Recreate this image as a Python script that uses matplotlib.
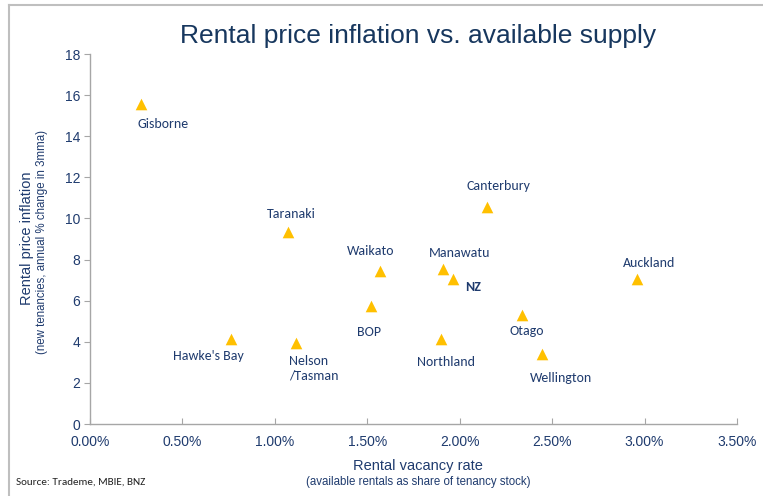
import matplotlib
matplotlib.use("Agg")
import matplotlib.pyplot as plt
from matplotlib.lines import Line2D

regions = ["Gisborne", "Taranaki", "Hawke's Bay", "Nelson\n/Tasman", "Waikato", "BOP",
           "Manawatu", "NZ", "Canterbury", "Northland", "Otago", "Wellington", "Auckland"]
vacancy = [0.276, 1.071, 0.763, 1.114, 1.568, 1.520, 1.909, 1.963, 2.147, 1.898, 2.336, 2.445, 2.958]
inflation = [15.56, 9.34, 4.13, 3.94, 7.44, 5.74, 7.54, 7.05, 10.55, 4.13, 5.30, 3.40, 7.05]
x_ticks = [0, 0.5, 1.0, 1.5, 2.0, 2.5, 3.0, 3.5]
y_ticks = [0, 2, 4, 6, 8, 10, 12, 14, 16, 18]

# label offsets in pixels (dx, dy) and alignment
offsets = {
    "Gisborne": (22, -20, "center"),
    "Taranaki": (3, 18, "center"),
    "Hawke's Bay": (-23, -17, "center"),
    "Nelson\n/Tasman": (-7, -25, "left"),
    "Waikato": (-9, 20, "center"),
    "BOP": (-2, -26, "center"),
    "Manawatu": (17, 16, "center"),
    "NZ": (20, -8, "center"),
    "Canterbury": (12, 21, "center"),
    "Northland": (5, -23, "center"),
    "Otago": (5, -16, "center"),
    "Wellington": (19, -24, "center"),
    "Auckland": (12, 16, "center"),
}

navy = "#1F3B6E"
title_c = "#17375E"
lab_font = ["Carlito", "Lato", "DejaVu Sans"]
ax_font = ["Liberation Sans", "DejaVu Sans"]
narrow = ["Liberation Sans Narrow", "Liberation Sans", "DejaVu Sans"]

fig = plt.figure(figsize=(7.63, 4.96), dpi=100)
ax = fig.add_axes([90/763, (496-424)/496, (737-90)/763, (424-54)/496])

ax.scatter(vacancy, inflation, marker="^", s=70, color="#FFC000", zorder=3, linewidths=0)

for name, x, y in zip(regions, vacancy, inflation):
    dx, dy, ha = offsets[name]
    ax.annotate(name, (x, y), xytext=(dx, dy), textcoords="offset pixels",
                ha=ha, va="center", fontsize=10, color=navy, family=lab_font,
                fontweight="bold" if name == "NZ" else "normal", linespacing=1.3)

ax.set_xlim(0, 3.5)
ax.set_ylim(0, 18)
ax.set_xticks(x_ticks)
ax.set_xticklabels([f"{v:.2f}%" for v in x_ticks])
ax.set_yticks(y_ticks)
ax.set_yticklabels([str(v) for v in y_ticks])
for lbl in ax.get_xticklabels() + ax.get_yticklabels():
    lbl.set_family(ax_font)
    lbl.set_color(navy)
    lbl.set_fontsize(10)
ax.tick_params(axis="x", direction="in", length=4, color="#A6A6A6", pad=8)
ax.tick_params(axis="y", direction="out", length=4, color="#A6A6A6", pad=3)
for s in ["top", "right"]:
    ax.spines[s].set_visible(False)
for s in ["left", "bottom"]:
    ax.spines[s].set_color("#A6A6A6")
    ax.spines[s].set_linewidth(1.0)

fig.text(418/763, 1 - 36/496, "Rental price inflation vs. available supply",
         ha="center", va="center", fontsize=19, color=title_c, family=narrow)

fig.text(27/763, 1 - 238/496, "Rental price inflation", rotation=90, ha="center", va="center",
         fontsize=10.5, color=navy, family=ax_font)
fig.text(42/763, 1 - 242/496, "(new tenancies, annual % change in 3mma)", rotation=90,
         ha="center", va="center", fontsize=8.3, color=navy, family=ax_font)
fig.text(418/763, 1 - 466/496, "Rental vacancy rate", ha="center", va="center",
         fontsize=10.5, color=navy, family=ax_font)
fig.text(418/763, 1 - 482/496, "(available rentals as share of tenancy stock)", ha="center",
         va="center", fontsize=8.3, color=navy, family=ax_font)
fig.text(16/763, 1 - 482/496, "Source: Trademe, MBIE, BNZ", ha="left", va="center",
         fontsize=8, color="#222222", family=lab_font)

# outer frame (left and top)
fig.add_artist(Line2D([9/763, 9/763], [0, 1 - 5/496], transform=fig.transFigure,
                      color="#BFBFBF", lw=1.5))
fig.add_artist(Line2D([9/763, 1], [1 - 5/496, 1 - 5/496], transform=fig.transFigure,
                      color="#BFBFBF", lw=1.5))

fig.savefig("out.png", dpi=100)
